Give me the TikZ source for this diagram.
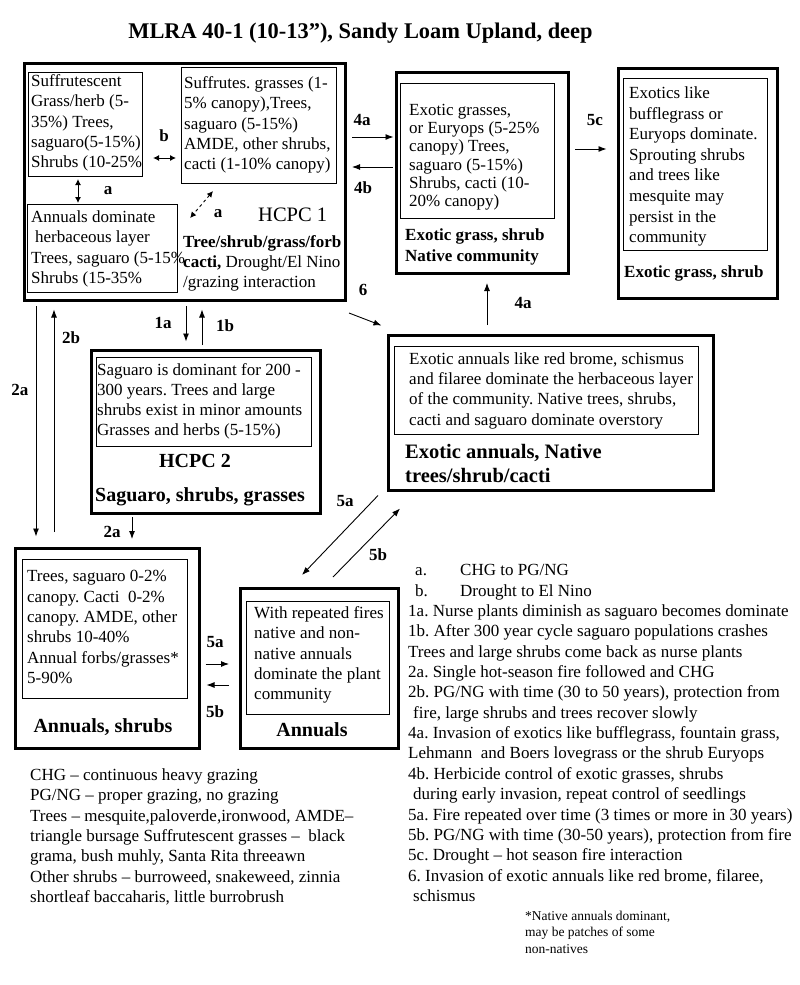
\documentclass[tikz,border=0pt]{standalone}
\usepackage{fontspec}
\setmainfont{Liberation Serif}
\usetikzlibrary{arrows.meta,calc}
\frenchspacing
\newcommand\tstr{\rule{0pt}{0.8em}}
\tikzset{
  outerbox/.style={draw, line width=3.5pt, inner sep=0pt, anchor=north west},
  innerbox/.style={draw, line width=1.1pt, inner sep=0pt, anchor=north west},
  txt/.style={anchor=north west, inner sep=0pt, align=left, font=\fontsize{17}{#1}\selectfont},
  txt/.default=20.4,
  btx/.style={anchor=north west, inner sep=0pt, align=left, font=\bfseries\fontsize{17}{#1}\selectfont},
  btx/.default=21,
  lbl/.style={anchor=base, inner sep=0pt, font=\bfseries\fontsize{17}{20}\selectfont},
  big/.style={anchor=base, inner sep=0pt, font=\bfseries\fontsize{20}{24}\selectfont},
  arr/.style={-{Latex[length=8pt,width=6pt]}, line width=0.9pt},
  darr/.style={{Latex[length=6pt,width=6pt]}-{Latex[length=6pt,width=6pt]}, line width=0.9pt},
}
\begin{document}
\frenchspacing
\begin{tikzpicture}[x=1pt,y=-1pt]
\fill[white] (0,0) rectangle (800,985);
\useasboundingbox (0,0) rectangle (800,985);

% title
\node[anchor=base, inner sep=0pt, font=\bfseries\fontsize{22.4}{26}\selectfont] (title) at (360.5,38.5) {MLRA 40-1 (10-13”), Sandy Loam Upland, deep};

% outer boxes
\node[outerbox, minimum width=321pt, minimum height=237pt] (h1) at (22.5,61.5) {};
\node[outerbox, minimum width=172pt, minimum height=201pt] (eg) at (394.5,70.5) {};
\node[outerbox, minimum width=159pt, minimum height=230pt] (xr) at (616.5,66.5) {};
\node[outerbox, minimum width=325pt, minimum height=155pt] (ea) at (386.5,333.5) {};
\node[outerbox, minimum width=229pt, minimum height=163pt] (h2) at (89.5,348.5) {};
\node[outerbox, minimum width=184pt, minimum height=200pt] (as) at (13.5,546.5) {};
\node[outerbox, minimum width=158pt, minimum height=160pt] (an) at (238.5,586.5) {};

% inner boxes
\node[innerbox, minimum width=114pt, minimum height=104pt] (sA) at (28,72) {};
\node[innerbox, minimum width=155pt, minimum height=116pt] (sB) at (181,67) {};
\node[innerbox, minimum width=150pt, minimum height=88pt] (sC) at (27,204) {};
\node[innerbox, minimum width=154pt, minimum height=135pt] (egi) at (400,83) {};
\node[innerbox, minimum width=144pt, minimum height=172pt] (xri) at (623,78) {};
\node[innerbox, minimum width=304pt, minimum height=88pt] (eai) at (394,346) {};
\node[innerbox, minimum width=215pt, minimum height=89pt] (h2i) at (96,357) {};
\node[innerbox, minimum width=165pt, minimum height=139pt] (asi) at (22,559) {};
\node[innerbox, minimum width=143pt, minimum height=113pt] (ani) at (246,601) {};

% HCPC 1 texts
\node[txt] (tA) at (31,72.4) {\tstr Suffrutescent\\Grass/herb (5-\\35\%) Trees,\\saguaro(5-15\%)\\Shrubs (10-25\%};
\node[txt] (tB) at (184,74.4) {\tstr Suffrutes. grasses (1-\\5\% canopy),Trees,\\saguaro (5-15\%)\\AMDE, other shrubs,\\cacti (1-10\% canopy)};
\node[txt] (tC) at (31,208.4) {\tstr Annuals dominate\\\hspace*{4pt}herbaceous layer\\Trees, saguaro (5-15\%\\Shrubs (15-35\%};
\node[anchor=base west, inner sep=0pt, font=\fontsize{20.5}{24}\selectfont] (h1L) at (258,221) {HCPC 1};
\node[txt=20] (tD) at (183,233.4) {\tstr\textbf{Tree/shrub/grass/forb}\\\textbf{cacti,} Drought/El Nino\\/grazing interaction};

% exotic grass, shrub native community
\node[txt=18.3] (tE) at (409,101.4) {\tstr Exotic grasses,\\or Euryops (5-25\%\\canopy) Trees,\\saguaro (5-15\%)\\Shrubs, cacti (10-\\20\% canopy)};
\node[btx] (egL) at (405,226.4) {\tstr Exotic grass, shrub\\Native community};

% exotic grass, shrub
\node[txt=20.6] (tF) at (629,84.7) {\tstr Exotics like\\bufflegrass or\\Euryops dominate.\\Sprouting shrubs\\and trees like\\mesquite may\\persist in the\\community};
\node[anchor=base west, inner sep=0pt, font=\bfseries\fontsize{17}{20}\selectfont] (xrL) at (624,277.7) {Exotic grass, shrub};

% exotic annuals
\node[txt=20.3] (tG) at (409,350.4) {\tstr Exotic annuals like red brome, schismus\\and filaree dominate the herbaceous layer\\of the community. Native trees, shrubs,\\cacti and saguaro dominate overstory};
\node[anchor=north west, inner sep=0pt, align=left, font=\bfseries\fontsize{20.5}{24.4}\selectfont] (eaL) at (405,441.9) {\tstr Exotic annuals, Native\\trees/shrub/cacti};

% HCPC 2
\node[txt=20] (tH) at (97,361.4) {\tstr Saguaro is dominant for 200 -\\300 years. Trees and large\\shrubs exist in minor amounts\\Grasses and herbs (5-15\%)};
\node[big] (h2L) at (195,467.7) {HCPC 2};
\node[big] (h2M) at (200,501.7) {Saguaro, shrubs, grasses};

% annuals, shrubs
\node[txt=20.3] (tI) at (27,568.1) {\tstr Trees, saguaro 0-2\%\\canopy. Cacti~~0-2\%\\canopy. AMDE, other\\shrubs 10-40\%\\Annual forbs/grasses*\\5-90\%};
\node[big] (asL) at (103,732.3) {Annuals, shrubs};

% annuals
\node[txt=20.25] (tJ) at (254,604.7) {\tstr With repeated fires\\native and non-\\native annuals\\dominate the plant\\community};
\node[big] (anL) at (312,736.7) {Annuals};

% arrows inside HCPC 1
\draw[darr, shorten <=10pt, shorten >=5pt] (sA.east |- 0,158) -- (sB.west |- 0,158);
\node[lbl] (lb) at (164,141) {b};
\draw[darr, shorten <=2pt, shorten >=1pt] (sA.south -| 78,0) -- (sC.north -| 78,0);
\node[lbl] (la1) at (108,194) {a};
\draw[darr, dashed] ($(sB.south west)+(32,7)$) -- ($(sC.north east)+(12,14)$);
\node[lbl] (la2) at (218,217) {a};

% transitions
\draw[arr, shorten <=5pt, shorten >=1pt] (h1.east |- 0,137) -- (eg.west |- 0,137);
\node[lbl] (l4a) at (362,125) {4a};
\draw[arr, shorten <=2pt, shorten >=5pt] (eg.west |- 0,167) -- (h1.east |- 0,167);
\node[lbl] (l4b) at (363,193) {4b};
\draw[arr, shorten <=5pt, shorten >=10pt] (eg.east |- 0,149) -- (xr.west |- 0,149);
\node[lbl] (l5c) at (595,125) {5c};
\draw[arr] ($(h1.south east)+(2,11)$) -- ($(ea.north west)+(-5,-8)$);
\node[lbl] (l6) at (363,295) {6};
\draw[arr, shorten <=8.5pt, shorten >=8pt] (ea.north -| 487,0) -- (eg.south -| 487,0);
\node[lbl] (l4a2) at (523,308) {4a};
\draw[arr, shorten <=4pt, shorten >=7pt] (h1.south -| 186,0) -- (h2.north -| 186,0);
\node[lbl] (l1a) at (163,328) {1a};
\draw[arr, shorten <=3.5pt, shorten >=7.5pt] (h2.north -| 202,0) -- (h1.south -| 202,0);
\node[lbl] (l1b) at (225,331) {1b};
\draw[arr, shorten <=4pt, shorten >=10pt] (h1.south -| 36,0) -- (as.north -| 36,0);
\node[lbl] (l2a) at (20,395) {2a};
\draw[arr, shorten <=14.5pt, shorten >=7.5pt] (as.north -| 54,0) -- (h1.south -| 54,0);
\node[lbl] (l2b) at (71,343) {2b};
\draw[arr, shorten <=2pt, shorten >=7.5pt] (h2.south -| 132,0) -- (as.north -| 132,0);
\node[lbl] (l2a2) at (112,537) {2a};
\draw[arr, shorten <=4.5pt, shorten >=9.5pt] (as.east |- 0,664) -- (an.west |- 0,664);
\node[lbl] (l5a) at (215,647) {5a};
\draw[arr, shorten <=9.5pt, shorten >=5.5pt] (an.west |- 0,685) -- (as.east |- 0,685);
\node[lbl] (l5b) at (215,717) {5b};
\draw[arr] ($(ea.south west)+(-8.5,3.5)$) -- ($(an.north west)+(63.5,-11.5)$);
\node[lbl] (l5a2) at (345,506) {5a};
\draw[arr] ($(an.north west)+(94.5,-9.5)$) -- ($(ea.south west)+(13.5,16.5)$);
\node[lbl] (l5b2) at (378,560) {5b};

% legends
\node[txt=20.36] (legR) at (408,561.9) {\tstr\hspace*{7pt}\makebox[45pt][l]{a.}CHG to PG/NG\\
\hspace*{7pt}\makebox[45pt][l]{b.}Drought to El Nino\\
1a. Nurse plants diminish as saguaro becomes dominate\\
1b. After 300 year cycle saguaro populations crashes\\
Trees and large shrubs come back as nurse plants\\
2a. Single hot-season fire followed and CHG\\
2b. PG/NG with time (30 to 50 years), protection from\\
\hspace*{5pt}fire, large shrubs and trees recover slowly\\
4a. Invasion of exotics like bufflegrass, fountain grass,\\
Lehmann~ and Boers lovegrass or the shrub Euryops\\
4b. Herbicide control of exotic grasses, shrubs\\
\hspace*{5pt}during early invasion, repeat control of seedlings\\
5a. Fire repeated over time (3 times or more in 30 years)\\
5b. PG/NG with time (30-50 years), protection from fire\\
5c. Drought – hot season fire interaction\\
6. Invasion of exotic annuals like red brome, filaree,\\
\hspace*{5pt}schismus};
\node[anchor=north west, inner sep=0pt, align=left, font=\fontsize{13.5}{16.4}\selectfont] (foot) at (525,909.2) {\tstr *Native annuals dominant,\\may be patches of some\\non-natives};
\node[txt] (legL) at (30,766.4) {\tstr CHG – continuous heavy grazing\\PG/NG – proper grazing, no grazing\\Trees – mesquite,paloverde,ironwood, AMDE–\\triangle bursage Suffrutescent grasses –~ black\\grama, bush muhly, Santa Rita threeawn\\Other shrubs – burroweed, snakeweed, zinnia\\shortleaf baccaharis, little burrobrush};
\end{tikzpicture}
\end{document}
